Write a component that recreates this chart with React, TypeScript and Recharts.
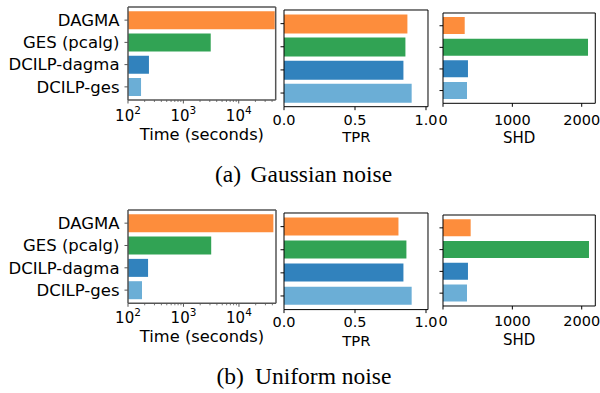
import React from 'react';
import { BarChart, Bar, XAxis, YAxis, Cell } from 'recharts';

// ---------- data ----------
const categories = ['DAGMA', 'GES (pcalg)', 'DCILP-dagma', 'DCILP-ges'];
const barColors = ['#fd8d3c', '#31a354', '#3182bd', '#6baed6'];

const timeGaussian = [44700, 3120, 239, 172];
const tprGaussian = [0.869, 0.855, 0.841, 0.899];
const shdGaussian = [313, 2091, 360, 346];

const timeUniform = [41700, 3160, 230, 179];
const tprUniform = [0.806, 0.862, 0.841, 0.899];
const shdUniform = [399, 2105, 360, 346];

const timeMajorTicks = [100, 1000, 10000];
const timeMinorTicks = [200, 300, 400, 500, 600, 700, 800, 900, 2000, 3000, 4000, 5000, 6000, 7000, 8000, 9000, 20000, 30000, 40000];
const tprTicks = [0, 0.5, 1.0];
const shdTicks = [0, 1000, 2000];

const timeDomain = [100, 46500];
const tprDomain = [0, 1.014];
const shdDomain = [0, 2196];

const axisTitles = ['Time (seconds)', 'TPR', 'SHD'];
const captionA = ['(a)', 'Gaussian noise'];
const captionB = ['(b)', 'Uniform noise'];

// ---------- layout ----------
type Box = { l: number; t: number; w: number; h: number };
const FONT = 'DejaVu Sans';

const TimeTick = (props: any) => {
  const { x, y, payload, frame, baselineGap } = props;
  const v = payload.value;
  const major = timeMajorTicks.includes(v);
  const exp = Math.round(Math.log10(v));
  return (
    <g>
      <line x1={x} x2={x} y1={y} y2={y + (major ? 3.5 : 2)} stroke={frame} strokeWidth={major ? 1 : 0.8} />
      {major && (
        <text x={x} y={y + baselineGap} textAnchor="middle" fontSize={15} fontFamily={FONT} fill="#000">
          <tspan>10</tspan>
          <tspan dy={-6.5} fontSize={10.5}>{exp}</tspan>
        </text>
      )}
    </g>
  );
};

type PanelProps = {
  box: Box;
  values: number[];
  variant: 'time' | 'tpr' | 'shd';
  tickGap: number;
  showCategories: boolean;
};

const Panel = ({ box, values, variant, tickGap, showCategories }: PanelProps) => {
  const ML = showCategories ? box.l : 12;
  const MB = 30;
  const MR = 20;
  const width = ML + box.w + 1 + MR;
  const height = 1 + box.h + MB;
  const pad = (box.h * 0.09) / 4.18;
  const data = categories.map((name, i) => ({ name, value: values[i] }));
  const isTime = variant === 'time';
  const frame = isTime ? '#555' : '#000';
  const fw = isTime ? 1.5 : 1;

  let xAxis;
  if (isTime) {
    const allTicks = [...timeMajorTicks, ...timeMinorTicks].sort((a, b) => a - b);
    xAxis = (
      <XAxis
        type="number"
        dataKey="value"
        scale="log"
        domain={timeDomain}
        allowDataOverflow
        ticks={allTicks}
        interval={0}
        tick={(p: any) => <TimeTick {...p} frame={frame} baselineGap={tickGap} />}
        tickLine={false}
        tickSize={0}
        tickMargin={0}
        axisLine={{ stroke: frame, strokeWidth: fw }}
        height={MB}
      />
    );
  } else {
    const isTpr = variant === 'tpr';
    xAxis = (
      <XAxis
        type="number"
        dataKey="value"
        domain={isTpr ? tprDomain : shdDomain}
        allowDataOverflow
        ticks={isTpr ? tprTicks : shdTicks}
        interval={0}
        tickFormatter={(v: number) => (isTpr ? v.toFixed(1) : String(v))}
        tickSize={3.5}
        tickMargin={tickGap}
        tick={{ fontSize: 14.5, fill: '#000', fontFamily: FONT }}
        tickLine={{ stroke: '#000' }}
        axisLine={{ stroke: '#000', strokeWidth: fw }}
        height={MB}
      />
    );
  }

  return (
    <div style={{ position: 'absolute', left: box.l - ML, top: box.t - 1, fontFamily: FONT }}>
      <BarChart
        width={width}
        height={height}
        data={data}
        layout="vertical"
        margin={{ top: 0, right: MR, bottom: 0, left: 0 }}
        barCategoryGap="10%"
        style={{ overflow: 'visible' }}
      >
        {xAxis}
        <XAxis
          xAxisId="top"
          orientation="top"
          type="number"
          domain={[0, 1]}
          ticks={[0]}
          height={1}
          tick={() => <g />}
          tickLine={false}
          axisLine={{ stroke: frame, strokeWidth: fw }}
        />
        <YAxis
          type="category"
          dataKey="name"
          width={ML}
          interval={0}
          padding={{ top: pad, bottom: pad }}
          tickSize={3.5}
          tickMargin={5}
          tick={showCategories ? { fontSize: 16.5, fill: '#000', fontFamily: FONT } : () => <g />}
          tickLine={{ stroke: frame }}
          axisLine={{ stroke: frame, strokeWidth: fw }}
        />
        <YAxis
          yAxisId="right"
          orientation="right"
          type="number"
          domain={[0, 1]}
          ticks={[0]}
          width={1}
          tick={() => <g />}
          tickLine={false}
          axisLine={{ stroke: frame, strokeWidth: fw }}
        />
        <Bar dataKey="value" isAnimationActive={false}>
          {data.map((d, i) => (
            <Cell key={d.name} fill={barColors[i]} />
          ))}
        </Bar>
      </BarChart>
    </div>
  );
};

const boxes = {
  a1: { l: 128, t: 7, w: 147.7, h: 93 },
  a2: { l: 284.3, t: 10, w: 144, h: 96.7 },
  a3: { l: 443, t: 12.7, w: 152.3, h: 90.3 },
  b1: { l: 128, t: 210, w: 148, h: 93.3 },
  b2: { l: 284.3, t: 212.7, w: 144, h: 96.6 },
  b3: { l: 443, t: 215, w: 152.3, h: 91 },
};

const Title = ({ box, text, gap, size }: { box: Box; text: string; gap: number; size: number }) => (
  <text x={box.l + box.w / 2} y={box.t + box.h + gap} textAnchor="middle" fontSize={size} fontFamily={FONT} fill="#000">
    {text}
  </text>
);

export default function App() {
  return (
    <div style={{ position: 'absolute', left: 0, top: 0, width: 600, height: 393, background: '#fff', overflow: 'hidden' }}>
      <Panel box={boxes.a1} values={timeGaussian} variant="time" tickGap={21} showCategories />
      <Panel box={boxes.a2} values={tprGaussian} variant="tpr" tickGap={4.2} showCategories={false} />
      <Panel box={boxes.a3} values={shdGaussian} variant="shd" tickGap={7.5} showCategories={false} />

      <Panel box={boxes.b1} values={timeUniform} variant="time" tickGap={19.7} showCategories />
      <Panel box={boxes.b2} values={tprUniform} variant="tpr" tickGap={3.3} showCategories={false} />
      <Panel box={boxes.b3} values={shdUniform} variant="shd" tickGap={6.5} showCategories={false} />

      <svg width={600} height={393} style={{ position: 'absolute', left: 0, top: 0, pointerEvents: 'none' }}>
        <Title box={boxes.a1} text={axisTitles[0]} gap={40} size={16.3} />
        <Title box={boxes.a2} text={axisTitles[1]} gap={35} size={14.8} />
        <Title box={boxes.a3} text={axisTitles[2]} gap={39.7} size={15} />
        <Title box={boxes.b1} text={axisTitles[0]} gap={38.4} size={16.3} />
        <Title box={boxes.b2} text={axisTitles[1]} gap={36.4} size={14.8} />
        <Title box={boxes.b3} text={axisTitles[2]} gap={39.3} size={15} />
        <g fontFamily="Liberation Serif" fontSize={23.5} fill="#000">
          <text x={215} y={182}>{captionA[0]}</text>
          <text x={250.5} y={182}>{captionA[1]}</text>
          <text x={216.5} y={384.3}>{captionB[0]}</text>
          <text x={255} y={384.3}>{captionB[1]}</text>
        </g>
      </svg>
    </div>
  );
}
